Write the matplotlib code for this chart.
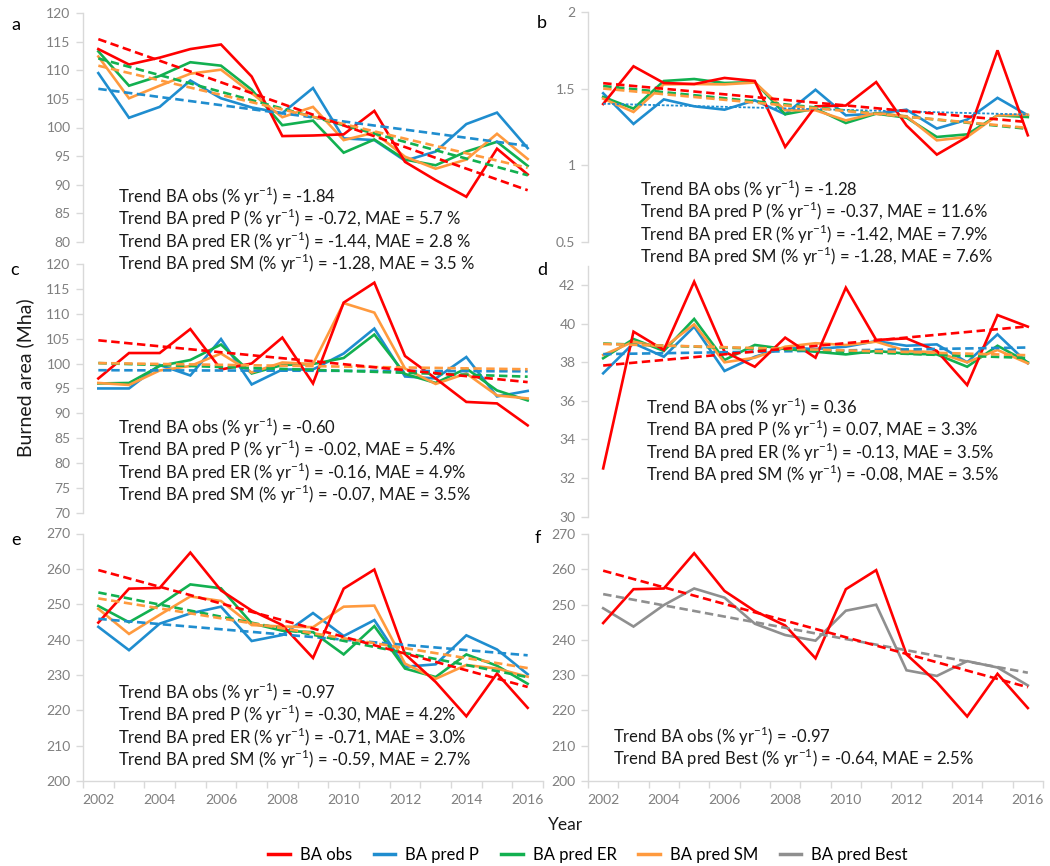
import numpy as np
import matplotlib
matplotlib.use("Agg")
import matplotlib.pyplot as plt
from matplotlib.lines import Line2D
from matplotlib.ticker import MultipleLocator, FixedLocator

plt.rcParams['font.family'] = ['Lato', 'DejaVu Sans']
plt.rcParams['mathtext.fontset'] = 'custom'
plt.rcParams['mathtext.rm'] = 'Lato'

years = np.arange(2002, 2017)

# panel a
a_obs = [113.7, 111.0, 112.2, 113.7, 114.5, 108.9, 98.5, 98.6, 98.8, 102.9, 94.0, 90.8, 87.9, 96.3, 91.8]
a_p = [109.5, 101.7, 103.6, 108.2, 105.1, 103.5, 102.5, 106.9, 98.1, 97.8, 94.2, 95.8, 100.6, 102.6, 96.4]
a_er = [113.3, 107.3, 109.0, 111.4, 110.8, 106.6, 100.4, 101.2, 95.6, 97.9, 94.4, 93.4, 95.8, 97.5, 93.3]
a_sm = [112.4, 105.1, 107.3, 109.4, 110.1, 106.0, 101.8, 103.6, 97.8, 99.1, 94.9, 92.8, 94.4, 98.9, 94.5]

# panel b
b_obs = [1.40, 1.646, 1.537, 1.53, 1.57, 1.55, 1.12, 1.385, 1.39, 1.543, 1.26, 1.07, 1.185, 1.75, 1.196]
b_p = [1.47, 1.27, 1.43, 1.385, 1.363, 1.424, 1.333, 1.493, 1.326, 1.337, 1.363, 1.24, 1.298, 1.44, 1.326]
b_er = [1.446, 1.37, 1.55, 1.563, 1.537, 1.543, 1.333, 1.37, 1.276, 1.337, 1.311, 1.185, 1.202, 1.326, 1.315]
b_sm = [1.435, 1.348, 1.528, 1.53, 1.528, 1.54, 1.359, 1.359, 1.293, 1.341, 1.32, 1.163, 1.185, 1.326, 1.33]

# panel c
c_obs = [97.0, 102.1, 102.1, 106.9, 98.8, 100.0, 105.2, 96.0, 112.2, 116.2, 101.5, 97.0, 92.3, 92.0, 87.6]
c_p = [95.0, 95.0, 99.7, 97.6, 104.9, 95.8, 98.8, 98.8, 102.0, 107.0, 97.4, 97.0, 101.3, 93.4, 94.5]
c_er = [96.0, 96.1, 99.5, 100.7, 103.8, 98.0, 99.7, 99.9, 101.1, 105.8, 97.9, 96.1, 99.0, 94.6, 92.6]
c_sm = [96.1, 95.7, 98.6, 99.5, 102.0, 98.2, 100.2, 99.9, 112.1, 110.2, 99.0, 95.9, 98.0, 93.6, 93.0]

# panel d
d_obs = [32.5, 39.59, 38.64, 42.18, 38.55, 37.77, 39.28, 38.24, 41.87, 39.16, 39.24, 38.59, 36.82, 40.45, 39.85]
d_p = [37.43, 38.99, 38.29, 39.85, 37.55, 38.29, 38.76, 38.69, 38.81, 39.1, 38.86, 38.93, 38.0, 39.45, 37.95]
d_er = [38.21, 39.21, 38.59, 40.25, 38.12, 38.9, 38.69, 38.55, 38.41, 38.59, 38.45, 38.41, 37.77, 38.86, 38.0]
d_sm = [38.38, 39.07, 38.76, 39.97, 38.0, 38.24, 38.81, 38.99, 38.9, 39.07, 38.59, 38.52, 38.0, 38.64, 37.95]

# panels e and f (global)
e_obs = [244.8, 254.4, 254.6, 264.6, 253.9, 248.2, 244.1, 234.8, 254.4, 259.8, 235.9, 228.0, 218.3, 230.4, 220.7]
e_p = [243.6, 237.0, 244.5, 247.4, 249.3, 239.6, 241.3, 247.5, 241.0, 245.5, 232.3, 233.0, 241.2, 237.2, 230.2]
e_er = [249.5, 244.9, 249.8, 255.6, 254.5, 244.6, 242.5, 242.1, 235.8, 243.8, 231.8, 229.4, 235.8, 232.6, 227.5]
e_sm = [248.7, 241.6, 247.0, 252.2, 250.9, 244.1, 243.7, 243.5, 249.3, 249.6, 233.2, 228.9, 232.8, 231.8, 229.5]
f_best = [249.0, 243.8, 249.9, 254.6, 252.0, 244.6, 241.4, 239.8, 248.3, 250.0, 231.4, 229.8, 234.0, 232.2, 227.1]

a_text = ["Trend BA obs (% yr$^{\\mathregular{-1}}$) = -1.84",
          "Trend BA pred P (% yr$^{\\mathregular{-1}}$) = -0.72, MAE = 5.7 %",
          "Trend BA pred ER (% yr$^{\\mathregular{-1}}$) = -1.44, MAE = 2.8 %",
          "Trend BA pred SM (% yr$^{\\mathregular{-1}}$) = -1.28, MAE = 3.5 %"]
b_text = ["Trend BA obs (% yr$^{\\mathregular{-1}}$) = -1.28",
          "Trend BA pred P (% yr$^{\\mathregular{-1}}$) = -0.37, MAE = 11.6%",
          "Trend BA pred ER (% yr$^{\\mathregular{-1}}$) = -1.42, MAE = 7.9%",
          "Trend BA pred SM (% yr$^{\\mathregular{-1}}$) = -1.28, MAE = 7.6%"]
c_text = ["Trend BA obs (% yr$^{\\mathregular{-1}}$) = -0.60",
          "Trend BA pred P (% yr$^{\\mathregular{-1}}$) = -0.02, MAE = 5.4%",
          "Trend BA pred ER (% yr$^{\\mathregular{-1}}$) = -0.16, MAE = 4.9%",
          "Trend BA pred SM (% yr$^{\\mathregular{-1}}$) = -0.07, MAE = 3.5%"]
d_text = ["Trend BA obs (% yr$^{\\mathregular{-1}}$) = 0.36",
          "Trend BA pred P (% yr$^{\\mathregular{-1}}$) = 0.07, MAE = 3.3%",
          "Trend BA pred ER (% yr$^{\\mathregular{-1}}$) = -0.13, MAE = 3.5%",
          "Trend BA pred SM (% yr$^{\\mathregular{-1}}$) = -0.08, MAE = 3.5%"]
e_text = ["Trend BA obs (% yr$^{\\mathregular{-1}}$) = -0.97",
          "Trend BA pred P (% yr$^{\\mathregular{-1}}$) = -0.30, MAE = 4.2%",
          "Trend BA pred ER (% yr$^{\\mathregular{-1}}$) = -0.71, MAE = 3.0%",
          "Trend BA pred SM (% yr$^{\\mathregular{-1}}$) = -0.59, MAE = 2.7%"]
f_text = ["Trend BA obs (% yr$^{\\mathregular{-1}}$) = -0.97",
          "Trend BA pred Best (% yr$^{\\mathregular{-1}}$) = -0.64, MAE = 2.5%"]

legend_labels = ["BA obs", "BA pred P", "BA pred ER", "BA pred SM", "BA pred Best"]

RED = "#FF0000"
BLUE = "#1F8DCF"
GREEN = "#12B050"
ORANGE = "#FF9A3E"
GRAY = "#8F8F8F"
AXCOL = "#D9D9D9"
TICKCOL = "#7F7F7F"

W, H = 1050, 866
fig = plt.figure(figsize=(W / 100, H / 100), dpi=100)


def px_axes(left, top, right, bottom):
    return fig.add_axes([left / W, 1 - bottom / H, (right - left) / W, (bottom - top) / H])


def fig_text(x, y, s, **kw):
    fig.text(x / W, 1 - y / H, s, **kw)


def setup(ax, ylim, step, xlabels):
    ax.set_xlim(2001.5, 2016.5)
    ax.set_ylim(*ylim)
    ax.yaxis.set_major_locator(MultipleLocator(step))
    for s in ["top", "right"]:
        ax.spines[s].set_visible(False)
    ax.spines["left"].set_color(AXCOL)
    ax.spines["left"].set_linewidth(1.0)
    ax.tick_params(axis="y", colors=AXCOL, length=5, width=1.0, labelcolor=TICKCOL,
                   labelsize=10, pad=4)
    if xlabels:
        ax.spines["bottom"].set_color(AXCOL)
        ax.spines["bottom"].set_linewidth(1.0)
        ax.xaxis.set_major_locator(FixedLocator(years[::2]))
        ax.xaxis.set_minor_locator(FixedLocator(np.arange(2001.5, 2017, 1.0)))
        ax.tick_params(axis="x", which="major", length=0, labelcolor=TICKCOL, labelsize=10, pad=9)
        ax.tick_params(axis="x", which="minor", length=5, width=1.0, colors=AXCOL)
    else:
        ax.spines["bottom"].set_visible(False)
        ax.set_xticks([])


def draw(ax, series, colors, fine_blue=False):
    for vals, col in zip(series, colors):
        ax.plot(years, vals, color=col, lw=1.9, solid_joinstyle="miter", zorder=2)
    for vals, col in zip(series, colors):
        k, b = np.polyfit(years, vals, 1)
        if fine_blue and col == BLUE:
            ax.plot(years, k * years + b, color=col, lw=1.3, dashes=(1.5, 1.0), zorder=3)
        else:
            ax.plot(years, k * years + b, color=col, lw=1.9, dashes=(3.2, 1.7), zorder=3)


cols4 = [BLUE, GREEN, ORANGE, RED]

ax_a = px_axes(83, 13, 543, 242)
setup(ax_a, (80, 120), 5, False)
draw(ax_a, [a_p, a_er, a_sm, a_obs], cols4)

ax_b = px_axes(588, 12, 1043, 242)
setup(ax_b, (0.5, 2), 0.5, False)
ax_b.yaxis.set_major_formatter(lambda v, p: "%g" % v)
draw(ax_b, [b_p, b_er, b_sm, b_obs], cols4, fine_blue=True)

ax_c = px_axes(83, 263.7, 543, 513.2)
setup(ax_c, (70, 120), 5, False)
draw(ax_c, [c_p, c_er, c_sm, c_obs], cols4)

ax_d = px_axes(588, 265.9, 1043, 516.6)
setup(ax_d, (30, 43), 2, False)
draw(ax_d, [d_p, d_er, d_sm, d_obs], cols4)

ax_e = px_axes(83, 533.5, 543, 781)
setup(ax_e, (200, 270), 10, True)
draw(ax_e, [e_p, e_er, e_sm, e_obs], cols4)

ax_f = px_axes(588, 534.2, 1043, 781)
setup(ax_f, (200, 270), 10, True)
draw(ax_f, [f_best, e_obs], [GRAY, RED])

# annotation blocks
blocks = [(118, 196, a_text), (640, 189, b_text), (118, 427, c_text),
          (646, 407, d_text), (118, 692, e_text), (613, 736, f_text)]
for x0, y0, lines in blocks:
    for i, s in enumerate(lines):
        fig_text(x0, y0 + i * 22.5, s, fontsize=12, color="#1a1a1a", va="center", ha="left")

# panel letters
for x0, y0, lab in [(11, 25, "a"), (537, 23, "b"), (10, 270, "c"),
                    (537, 270, "d"), (11, 540, "e"), (535, 538, "f")]:
    fig_text(x0, y0, lab, fontsize=13, color="black", va="center", ha="left")

fig_text(25, 378, "Burned area (Mha)", fontsize=14, rotation=90, va="center", ha="center",
         color="#1a1a1a")
fig_text(566, 825, "Year", fontsize=12.5, va="center", ha="center", color="#1a1a1a")

handles = [Line2D([], [], color=c, lw=2.5) for c in [RED, BLUE, GREEN, ORANGE, GRAY]]
fig.legend(handles, legend_labels, loc="center", bbox_to_anchor=(588 / W, 1 - 855 / H),
           ncol=5, frameon=False, fontsize=12, handlelength=1.3, columnspacing=1.3,
           handletextpad=0.6)

fig.savefig("out.png", dpi=100)
